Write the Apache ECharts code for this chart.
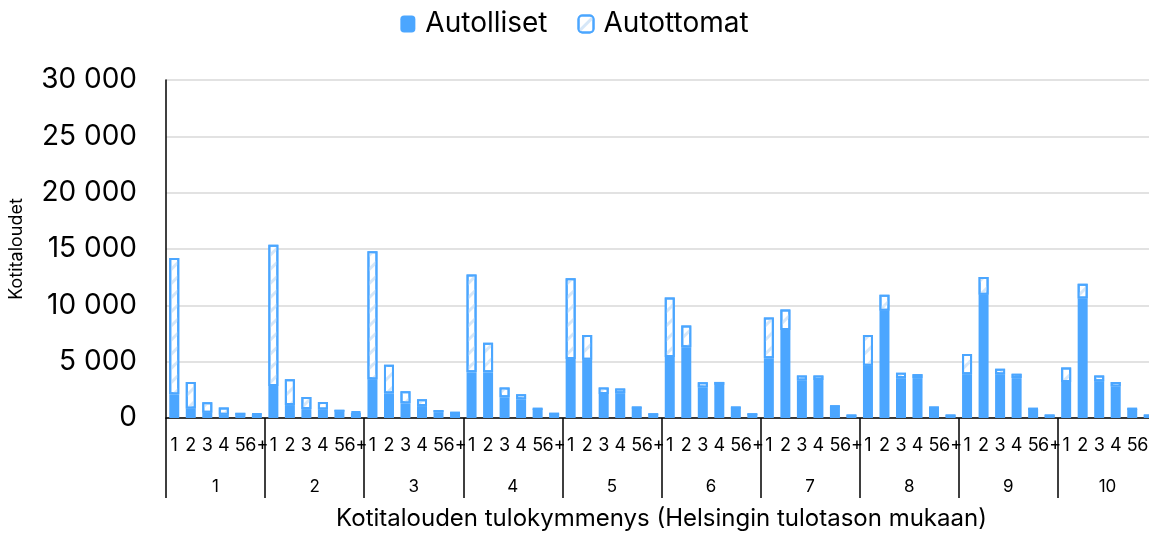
<!DOCTYPE html>
<html>
<head>
<meta charset="utf-8">
<script src="https://cdn.jsdelivr.net/npm/echarts@6/dist/echarts.min.js"></script>
<style>
  html, body { margin: 0; padding: 0; background: #fff; }
  #chart { width: 1149px; height: 533px; }
</style>
</head>
<body>
<div id="chart"></div>
<script>
// kotitalouden koko (henkilöä) ja tulokymmenys
const sizes = ["1", "2", "3", "4", "5", "6+"];
const deciles = ["1", "2", "3", "4", "5", "6", "7", "8", "9", "10"];

// kotitaloudet, joilla on auto (6 kokoluokkaa / kymmenys)
const autolliset = [
  2100, 850, 470, 290, 200, 330,
  2850, 1150, 790, 760, 550, 470,
  3450, 2190, 1300, 1060, 520, 450,
  4050, 4050, 1840, 1660, 800, 370,
  5240, 5180, 2130, 2200, 920, 330,
  5420, 6280, 2700, 2940, 920, 330,
  5300, 7800, 3330, 3380, 1040, 220,
  4640, 9510, 3540, 3540, 920, 220,
  3890, 10940, 3890, 3540, 800, 220,
  3200, 10610, 3270, 2790, 800, 220
];

// kotitaloudet ilman autoa
const autottomat = [
  12100, 2350, 920, 650, 260, 40,
  12530, 2300, 1070, 660, 180, 110,
  11340, 2540, 1070, 600, 180, 20,
  8680, 2620, 860, 440, 20, 10,
  7160, 2180, 570, 410, 20, 10,
  5280, 1940, 480, 260, 20, 10,
  3610, 1820, 450, 400, 20, 10,
  2720, 1430, 470, 350, 20, 10,
  1790, 1580, 480, 380, 20, 10,
  1290, 1310, 510, 410, 20, 10
];

const yTicks = { min: 0, max: 30000, interval: 5000 };

const subCategories = [];
deciles.forEach(d => sizes.forEach(s => subCategories.push(d + "-" + s)));

const FONT = "Inter, 'Noto Sans', sans-serif";
const BLUE = "#4ba6ff";

const chart = echarts.init(document.getElementById("chart"));

const option = {
  animation: false,
  textStyle: { fontFamily: FONT, color: "#000" },
  legend: {
    top: 5,
    left: "center",
    itemWidth: 15,
    itemHeight: 17,
    itemGap: 30,
    textStyle: { fontSize: 28, color: "#000", fontFamily: FONT, padding: [0, 0, 0, 5] },
    data: ["Autolliset", "Autottomat"]
  },
  grid: { left: 166, top: 80, width: 991, height: 338, outerBoundsMode: "none", containLabel: false },
  xAxis: [
    {
      type: "category",
      data: subCategories,
      axisLine: { show: true, lineStyle: { color: "#000", width: 1.5 } },
      axisTick: { show: false },
      axisLabel: {
        interval: 0,
        margin: 19,
        fontSize: 18,
        color: "#000",
        formatter: v => v.split("-")[1]
      }
    },
    {
      type: "category",
      data: deciles,
      position: "bottom",
      axisLine: { show: false },
      axisTick: { show: true, length: 80, lineStyle: { color: "#000", width: 1.5 } },
      axisLabel: { margin: 60, fontSize: 17, color: "#000" },
      name: "Kotitalouden tulokymmenys (Helsingin tulotason mukaan)",
      nameLocation: "middle",
      nameGap: 89,
      nameTextStyle: { fontSize: 24, color: "#000" }
    }
  ],
  yAxis: {
    type: "value",
    min: yTicks.min,
    max: yTicks.max,
    interval: yTicks.interval,
    name: "Kotitaloudet",
    nameLocation: "middle",
    nameGap: 140,
    nameTextStyle: { fontSize: 18, color: "#000" },
    axisLine: { show: true, lineStyle: { color: "#000", width: 1.5 } },
    axisTick: { show: false },
    splitLine: { lineStyle: { color: "#d9d9d9", width: 1.5 } },
    axisLabel: {
      margin: 29,
      fontSize: 28,
      color: "#000",
      formatter: v => String(v).replace(/\B(?=(\d{3})+(?!\d))/g, " ")
    }
  },
  series: [
    {
      name: "Autolliset",
      type: "bar",
      stack: "kotitaloudet",
      barWidth: 10,
      itemStyle: { color: BLUE },
      data: autolliset
    },
    {
      name: "Autottomat",
      type: "bar",
      stack: "kotitaloudet",
      barWidth: 10,
      itemStyle: {
        color: "#ffffff",
        borderColor: BLUE,
        borderWidth: 2,
        decal: {
          symbol: "rect",
          symbolSize: 1,
          color: "#d6e7f8",
          dashArrayX: [1, 0],
          dashArrayY: [3, 7],
          rotation: -Math.PI / 4
        }
      },
      data: autottomat
    }
  ]
};

chart.setOption(option);
</script>
</body>
</html>
